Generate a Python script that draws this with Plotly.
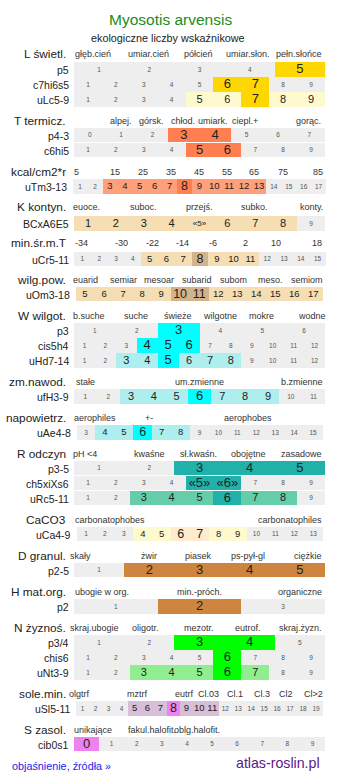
import plotly.graph_objects as go

# ---------------- DATA ----------------
group_titles = ["L świetl.", "T termicz.", "kcal/cm2*r", "K kontyn.", "min.śr.m.T", "wilg.pow.",
                "W wilgot.", "zm.nawod.", "napowietrz.", "R odczyn", "CaCO3", "D granul.",
                "H mat.org.", "N żyznoś.", "sole.min.", "S zasol."]
group_scales = [
    ["głęb.cień", "umiar.cień", "półcień", "umiar.słon.", "pełn.słońce"],
    ["alpej.", "górsk.", "chłod.", "umiark.", "ciepl.+", "gorąc."],
    ["5", "15", "25", "35", "45", "55", "65", "75", "85"],
    ["euoce.", "suboc.", "przejś.", "subko.", "konty."],
    ["-34", "-30", "-22", "-14", "-6", "2", "10", "18"],
    ["euarid", "semiar", "mesoar", "subarid", "subom", "meso.", "semiom"],
    ["b.suche", "suche", "świeże", "wilgotne", "mokre", "wodne"],
    ["stałe", "um.zmienne", "b.zmienne"],
    ["aerophiles", "+-", "aerophobes"],
    ["pH <4", "kwaśne", "sł.kwaśn.", "obojętne", "zasadowe"],
    ["carbonatophobes", "carbonatophiles"],
    ["skały", "żwir", "piasek", "ps-pył-gl", "ciężkie"],
    ["ubogie w org.", "min.-próch.", "organiczne"],
    ["skraj.ubogie", "oligotr.", "mezotr.", "eutrof.", "skraj.żyzn."],
    ["olgtrf", "mztrf", "eutrf", "Cl.03", "Cl.1", "Cl.3", "Cl2", "Cl>2"],
    ["unikające", "fakul.halofit.", "oblg.halofit."],
]

row_names = ["p5", "c7hi6s5", "uLc5-9", "p4-3", "c6hi5", "uTm3-13", "BCxA6E5", "uCr5-11",
             "uOm3-18", "p3", "cis5h4", "uHd7-14", "ufH3-9", "uAe4-8", "p3-5", "ch5xiXs6",
             "uRc5-11", "uCa4-9", "p2-5", "p2", "p3/4", "chis6", "uNt3-9", "uSl5-11", "cib0s1"]
row_group = [0, 0, 0, 1, 1, 2, 3, 4, 5, 6, 6, 6, 7, 8, 9, 9, 9, 10, 11, 12, 13, 13, 13, 14, 15]
row_first = [1, 1, 1, 0, 1, 1, 1, 1, 5, 1, 1, 1, 1, 3, 1, 1, 1, 1, 1, 1, 1, 1, 1, 1, 0]
row_count = [5, 9, 9, 8, 9, 17, 9, 15, 13, 6, 12, 12, 11, 13, 5, 9, 9, 13, 5, 3, 5, 9, 9, 19, 10]
# cell values marked weakly (1) and strongly (2)
row_weak = [[], [], [5, 6, 8, 9], [], [], [3, 4, 5, 6, 7, 9, 10, 11, 12, 13], [1, 2, 3, 4, 5, 6, 7, 8],
            [5, 6, 7, 9, 10, 11], [5, 6, 7, 8, 9, 12, 13, 14, 15, 16, 17], [], [], [3, 4, 6, 7, 8],
            [3, 4, 5, 7, 8, 9], [4, 5, 7, 8], [], [], [3, 4, 5, 7, 8], [4, 5, 8, 9], [], [], [], [],
            [3, 4, 5, 7], [5, 6, 7, 9, 10, 11], []]
row_strong = [[5], [6, 7], [7], [3, 4], [5, 6], [8], [], [8], [10, 11], [3], [4, 5, 6], [5], [6], [6],
              [3, 4, 5], [5, 6], [6], [6, 7], [2, 3, 4, 5], [2], [3, 4], [6], [6], [8], [0]]
row_special_labels = {"BCxA6E5": {5: "«5»"}, "ch5xiXs6": {5: "«5»", 6: "«6»"}}

# ---------------- STYLE / LAYOUT ----------------
FONT = "Liberation Sans, Arial, sans-serif"
GRAY = "#EEEEEE"
group_colors = [
    ("#FFFACD", "#FFD700"), ("#FFA07A", "#FF7F50"), ("#FFA07A", "#FF7F50"), ("#F5DEB3", "#D2B48C"),
    ("#F5DEB3", "#D2B48C"), ("#F5DEB3", "#D2B48C"), ("#AFEEEE", "#00FFFF"), ("#AFEEEE", "#00FFFF"),
    ("#AFEEEE", "#00FFFF"), ("#66CDAA", "#20B2AA"), ("#FFFACD", "#FFEBCD"), ("#CD853F", "#CD853F"),
    ("#CD853F", "#CD853F"), ("#90EE90", "#00FF00"), ("#D8BFD8", "#EE82EE"), ("#D8BFD8", "#EE82EE"),
]
group_header_y = [53, 120, 171, 206, 242.5, 279.5, 315, 381, 417, 453.5, 519, 555, 591, 627, 693, 729]
group_scale_x = [
    [92.7, 148, 198, 248, 298.7],
    [120.7, 151.7, 182.7, 213.3, 245, 308],
    [76, 115, 143.3, 171, 199, 226.7, 254, 282.7, 318.3],
    [86.7, 143.3, 199, 254.3, 311],
    [81.7, 121.7, 152.7, 182.7, 213.3, 245.7, 276, 317.3],
    [85, 123.3, 159.3, 196.7, 233.3, 270, 306.7],
    [89.3, 135.7, 177.7, 220, 261.7, 311.7],
    [85, 199, 301.7],
    [95, 149, 248.3],
    [85, 149, 198.3, 248.3, 301.7],
    [110, 290],
    [80, 149, 198.3, 248.3, 308.3],
    [102.3, 199, 300],
    [94, 145.7, 199, 248.3, 300],
    [79.3, 136.7, 184.3, 208.3, 235, 261.7, 286, 313.3],
    [93.3, 151.7, 196.7],
]
row_y = [69.5, 84.5, 99.5, 135, 150, 186.5, 223.5, 259, 294, 330.5, 345.5, 360.5, 396.5, 432.5,
         468, 483, 498, 534, 570, 606.5, 642.5, 657.5, 672.5, 708.5, 744]
row_extent = {"uTm3-13": (72.7, 326), "uCr5-11": (74, 326), "uOm3-18": (75.5, 322.8),
              "uAe4-8": (76.5, 322.5), "uCa4-9": (76.5, 322.8), "uSl5-11": (76.2, 322.5)}
DEFAULT_EXTENT = (74, 325)
BAR_H = 14.2

fig = go.Figure()
annotations = []

tx, ty, tt, ts, tc = [], [], [], [], []
for r, name in enumerate(row_names):
    left, right = row_extent.get(name, DEFAULT_EXTENT)
    n = row_count[r]
    w = (right - left) / n
    light, strong = group_colors[row_group[r]]
    bases, widths, colors = [], [], []
    for i in range(n):
        v = row_first[r] + i
        if v in row_strong[r]:
            lvl, col = 2, strong
        elif v in row_weak[r]:
            lvl, col = 1, light
        else:
            lvl, col = 0, GRAY
        bases.append(left + i * w)
        widths.append(w)
        colors.append(col)
        label = row_special_labels.get(name, {}).get(v, str(v))
        tx.append(left + (i + 0.5) * w)
        ty.append(row_y[r] + 0.5)
        tt.append(label)
        if lvl == 2:
            size = 13 if n <= 12 else 12.5
        elif lvl == 1:
            size = 11 if n <= 12 else 9.5
            if "«" in label:
                size = 8
        else:
            size = 6.5
        ts.append(size)
        tc.append("#222222" if lvl else "#555555")
    fig.add_trace(go.Bar(orientation="h", y=[row_y[r]] * n, x=widths, base=bases,
                         width=BAR_H, marker=dict(color=colors, line=dict(width=0)),
                         hoverinfo="skip", showlegend=False))
    annotations.append(dict(x=left - 3.5, y=row_y[r] + 0.5, text=name, showarrow=False,
                            xanchor="right", yanchor="middle",
                            font=dict(family=FONT, size=10.5, color="#222222")))

fig.add_trace(go.Scatter(x=tx, y=ty, text=tt, mode="text", textposition="middle center",
                         textfont=dict(family=FONT, size=ts, color=tc),
                         hoverinfo="skip", showlegend=False))

for g, title in enumerate(group_titles):
    annotations.append(dict(x=68, y=group_header_y[g] + 0.5, text=title, showarrow=False,
                            xanchor="right", yanchor="middle",
                            font=dict(family=FONT, size=11.8, color="#222222")))
    for txt, xx in zip(group_scales[g], group_scale_x[g]):
        annotations.append(dict(x=xx, y=group_header_y[g] + 0.5, text=txt, showarrow=False,
                                xanchor="center", yanchor="middle",
                                font=dict(family=FONT, size=9, color="#333333")))

annotations.append(dict(x=170, y=19.5, text="Myosotis arvensis", showarrow=False,
                        xanchor="center", yanchor="middle",
                        font=dict(family=FONT, size=15.5, color="#228B22")))
annotations.append(dict(x=168, y=38, text="ekologiczne liczby wskaźnikowe", showarrow=False,
                        xanchor="center", yanchor="middle",
                        font=dict(family=FONT, size=10.8, color="#222222")))
annotations.append(dict(x=9.5, y=766, text="objaśnienie, źródła »", showarrow=False,
                        xanchor="left", yanchor="middle",
                        font=dict(family=FONT, size=10.8, color="#2222EE")))
annotations.append(dict(x=322, y=763, text="atlas-roslin.pl", showarrow=False,
                        xanchor="right", yanchor="middle",
                        font=dict(family=FONT, size=14.2, color="#5A1A8A")))

fig.update_layout(
    width=337, height=781, autosize=False,
    margin=dict(l=0, r=0, t=0, b=0, pad=0),
    paper_bgcolor="white", plot_bgcolor="white",
    barmode="overlay", bargap=0,
    xaxis=dict(range=[0, 337], visible=False, fixedrange=True),
    yaxis=dict(range=[781, 0], visible=False, fixedrange=True),
    annotations=annotations,
    showlegend=False,
)

fig.write_html("out.html", config={"displayModeBar": False})
